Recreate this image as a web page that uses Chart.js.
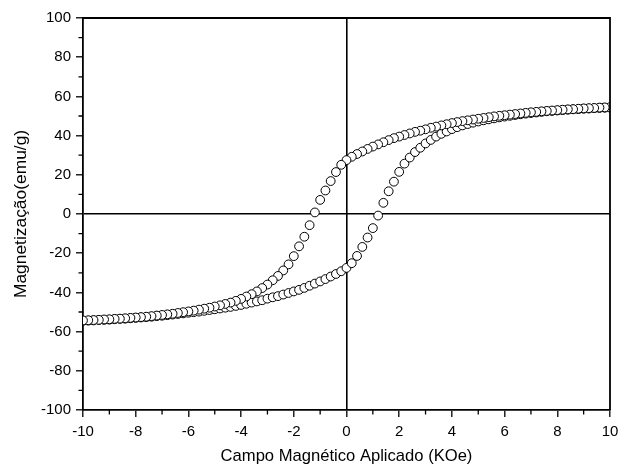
<!DOCTYPE html>
<html>
<head>
<meta charset="utf-8">
<script src="https://cdn.jsdelivr.net/npm/chart.js@4.4.1/dist/chart.umd.min.js"></script>
<style>
  html, body { margin: 0; padding: 0; background: #fff; }
  #wrap { width: 626px; height: 468px; }
</style>
</head>
<body>
<div id="wrap"><canvas id="c" width="626" height="468"></canvas></div>
<script>
// Applied field (KOe)
const field = [
  -10, -9.8, -9.6, -9.4, -9.2, -9, -8.8, -8.6, -8.4, -8.2,
  -8, -7.8, -7.6, -7.4, -7.2, -7, -6.8, -6.6, -6.4, -6.2,
  -6, -5.8, -5.6, -5.4, -5.2, -5, -4.8, -4.6, -4.4, -4.2,
  -4, -3.8, -3.6, -3.4, -3.2, -3, -2.8, -2.6, -2.4, -2.2,
  -2, -1.8, -1.6, -1.4, -1.2, -1, -0.8, -0.6, -0.4, -0.2,
  0,
  0.2, 0.4, 0.6, 0.8, 1, 1.2, 1.4, 1.6, 1.8, 2,
  2.2, 2.4, 2.6, 2.8, 3, 3.2, 3.4, 3.6, 3.8, 4,
  4.2, 4.4, 4.6, 4.8, 5, 5.2, 5.4, 5.6, 5.8, 6,
  6.2, 6.4, 6.6, 6.8, 7, 7.2, 7.4, 7.6, 7.8, 8,
  8.2, 8.4, 8.6, 8.8, 9, 9.2, 9.4, 9.6, 9.8, 10
];
// Descending branch (upper curve), magnetization (emu/g)
const magDescending = [
  -54.3, -54.2, -54.1, -54.0, -53.8, -53.7, -53.5, -53.4, -53.2, -53.0,
  -52.8, -52.6, -52.4, -52.1, -51.8, -51.5, -51.2, -50.9, -50.5, -50.1,
  -49.7, -49.3, -48.8, -48.3, -47.8, -47.2, -46.6, -45.9, -45.2, -44.3,
  -43.3, -42.1, -40.9, -39.5, -37.8, -36.0, -33.8, -31.6, -28.8, -25.7,
  -21.5, -16.5, -11.6, -5.7, 0.8, 7.2, 12.0, 16.8, 21.4, 25.1,
  27.5,
  29.2, 30.6, 31.9, 33.2, 34.4, 35.5, 36.6, 37.7, 38.7, 39.5,
  40.3, 41.1, 41.9, 42.5, 43.2, 44.0, 44.6, 45.2, 45.8, 46.4,
  46.9, 47.4, 47.8, 48.2, 48.6, 49.0, 49.4, 49.8, 50.1, 50.4,
  50.7, 51.0, 51.3, 51.6, 51.9, 52.1, 52.4, 52.6, 52.8, 53.0,
  53.2, 53.4, 53.5, 53.7, 53.9, 54.0, 54.1, 54.3, 54.4, 54.5
];
// Ascending branch (lower curve), magnetization (emu/g)
const magAscending = [
  -54.5, -54.4, -54.3, -54.1, -54.0, -53.9, -53.7, -53.5, -53.4, -53.2,
  -53.0, -52.8, -52.6, -52.4, -52.1, -51.9, -51.6, -51.3, -51.0, -50.7,
  -50.4, -50.1, -49.8, -49.4, -49.0, -48.6, -48.2, -47.8, -47.4, -46.9,
  -46.4, -45.8, -45.2, -44.6, -44.0, -43.2, -42.5, -41.9, -41.1, -40.3,
  -39.5, -38.7, -37.7, -36.6, -35.5, -34.4, -33.2, -31.9, -30.6, -29.2,
  -27.5,
  -25.1, -21.4, -16.8, -12.0, -7.2, -0.8, 5.7, 11.6, 16.5, 21.5,
  25.7, 28.8, 31.6, 33.8, 36.0, 37.8, 39.5, 40.9, 42.1, 43.3,
  44.3, 45.2, 45.9, 46.6, 47.2, 47.8, 48.3, 48.8, 49.3, 49.7,
  50.1, 50.5, 50.9, 51.2, 51.5, 51.8, 52.1, 52.4, 52.6, 52.8,
  53.0, 53.2, 53.4, 53.5, 53.7, 53.8, 54.0, 54.1, 54.2, 54.3
];
const xRange = [-10, 10];
const yRange = [-100, 100];
const xStep = 2;
const yStep = 20;
const xTitle = 'Campo Magnético Aplicado (KOe)';
const yTitle = 'Magnetização(emu/g)';

const FONT = '"Liberation Sans", Arial, Helvetica, sans-serif';

const descPts = field.map((x, i) => ({ x: x, y: magDescending[i] })).reverse();
const ascPts = field.map((x, i) => ({ x: x, y: magAscending[i] }));

const framePlugin = {
  id: 'frame',
  afterDraw(chart) {
    const ctx = chart.ctx;
    const a = chart.chartArea;
    const xs = chart.scales.x, ys = chart.scales.y;
    ctx.save();
    ctx.strokeStyle = '#000';
    ctx.lineWidth = 1.8;
    ctx.beginPath();
    ctx.moveTo(a.left, a.top);
    ctx.lineTo(a.right, a.top);
    ctx.lineTo(a.right, a.bottom);
    ctx.stroke();
    // minor ticks
    ctx.lineWidth = 1.3;
    ctx.beginPath();
    for (let v = xRange[0] + xStep / 2; v < xRange[1]; v += xStep) {
      const px = xs.getPixelForValue(v);
      ctx.moveTo(px, a.bottom);
      ctx.lineTo(px, a.bottom + 4.5);
    }
    for (let v = yRange[0] + yStep / 2; v < yRange[1]; v += yStep) {
      const py = ys.getPixelForValue(v);
      ctx.moveTo(a.left, py);
      ctx.lineTo(a.left - 4.5, py);
    }
    ctx.stroke();
    ctx.restore();
  }
};

const gridCfg = {
  drawOnChartArea: true,
  color: (c) => (c.tick && c.tick.value === 0) ? '#000' : 'rgba(0,0,0,0)',
  lineWidth: 1.6,
  tickColor: '#000',
  tickLength: 7,
  tickWidth: 1.3
};

const pointStyle = {
  showLine: false,
  pointRadius: 4.4,
  pointHoverRadius: 4.4,
  pointBorderWidth: 1,
  pointBorderColor: '#000',
  pointBackgroundColor: '#fff'
};

new Chart(document.getElementById('c'), {
  type: 'scatter',
  data: {
    datasets: [
      Object.assign({ label: 'descending', data: descPts }, pointStyle),
      Object.assign({ label: 'ascending', data: ascPts }, pointStyle)
    ]
  },
  options: {
    responsive: false,
    animation: false,
    devicePixelRatio: 1,
    layout: { padding: { left: 0, right: 16, top: 18, bottom: 0 } },
    plugins: { legend: { display: false }, tooltip: { enabled: false } },
    scales: {
      x: {
        type: 'linear',
        min: xRange[0], max: xRange[1],
        ticks: { stepSize: xStep, color: '#000', font: { family: FONT, size: 15 }, padding: 6, maxRotation: 0 },
        grid: gridCfg,
        border: { display: true, color: '#000', width: 1.8 },
        title: { display: true, text: xTitle, color: '#000', font: { family: FONT, size: 16.6 }, padding: { top: 2, bottom: 1.5 } },
        afterFit(s) { s.height = 58; }
      },
      y: {
        type: 'linear',
        min: yRange[0], max: yRange[1],
        ticks: { stepSize: yStep, color: '#000', font: { family: FONT, size: 15 }, padding: 5 },
        grid: gridCfg,
        border: { display: true, color: '#000', width: 1.8 },
        title: { display: true, text: yTitle, color: '#000', font: { family: FONT, size: 17.4 }, padding: { top: 11, bottom: 2 } },
        afterFit(s) { s.width = 83; }
      }
    }
  },
  plugins: [framePlugin]
});
</script>
</body>
</html>
